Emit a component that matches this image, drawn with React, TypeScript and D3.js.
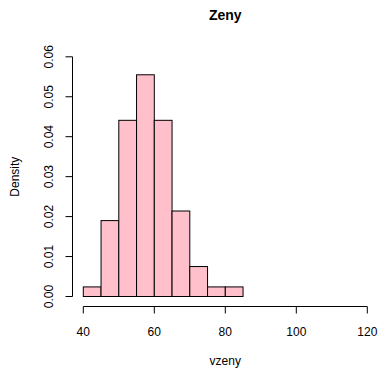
import React from "react";
import * as d3 from "d3";

const binStarts = [40, 45, 50, 55, 60, 65, 70, 75, 80];
const binWidth = 5;
const densities = [0.0024, 0.019, 0.0441, 0.0555, 0.0441, 0.0214, 0.0075, 0.0024, 0.0024];
const xTicks = [40, 60, 80, 100, 120];
const yTicks = [0, 0.01, 0.02, 0.03, 0.04, 0.05, 0.06];
const title = "Zeny";
const xLabel = "vzeny";
const yLabel = "Density";

export default function App() {
  const W = 381, H = 371;
  const x = d3.scaleLinear().domain([40, 120]).range([83.3, 367.3]);
  const y = d3.scaleLinear().domain([0, 0.06]).range([296.5, 56.8]);
  const font = "'Liberation Sans', Arial, Helvetica, sans-serif";
  const xAxisY = 306.5;
  const yAxisX = 72.5;
  return (
    <svg width={W} height={H} style={{ position: "absolute", left: 0, top: 0, background: "#fff" }}
      fontFamily={font}>
      <text x={225.3} y={19.5} textAnchor="middle" fontWeight="bold" fontSize={14}>{title}</text>
      {binStarts.map((b, i) => (
        <rect key={i}
          x={x(b)} y={y(densities[i])}
          width={x(b + binWidth) - x(b)} height={y(0) - y(densities[i])}
          fill="#FFC0CB" stroke="#000" strokeWidth={1} />
      ))}
      {/* x axis */}
      <line x1={x(40)} x2={x(120)} y1={xAxisY} y2={xAxisY} stroke="#000" />
      {xTicks.map((t) => (
        <g key={t}>
          <line x1={x(t)} x2={x(t)} y1={xAxisY} y2={xAxisY + 7} stroke="#000" />
          <text x={x(t)} y={336} textAnchor="middle" fontSize={12}>{t}</text>
        </g>
      ))}
      <text x={225.3} y={365} textAnchor="middle" fontSize={12}>{xLabel}</text>
      {/* y axis */}
      <line x1={yAxisX} x2={yAxisX} y1={y(0)} y2={y(0.06)} stroke="#000" />
      {yTicks.map((t) => (
        <g key={t}>
          <line x1={yAxisX - 7} x2={yAxisX} y1={y(t)} y2={y(t)} stroke="#000" />
          <text transform={`translate(52.5,${y(t)}) rotate(-90)`} textAnchor="middle" fontSize={12}>
            {t.toFixed(2)}
          </text>
        </g>
      ))}
      <text transform={`translate(19,176.7) rotate(-90)`} textAnchor="middle" fontSize={12}>{yLabel}</text>
    </svg>
  );
}
